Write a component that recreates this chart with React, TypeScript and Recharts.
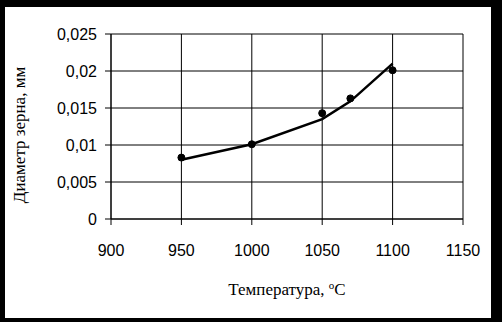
import { ComposedChart, Line, XAxis, YAxis, CartesianGrid } from "recharts";

const temps = [950, 1000, 1050, 1070, 1100];
const measured = [0.0083, 0.0101, 0.0143, 0.0163, 0.0201];
const fitted = [0.008, 0.0101, 0.0135, 0.0159, 0.021];
const xTicks = [900, 950, 1000, 1050, 1100, 1150];
const yTicks = [0, 0.005, 0.01, 0.015, 0.02, 0.025];

const data = temps.map((t, i) => ({ temp: t, measured: measured[i], fitted: fitted[i] }));

const fmt = (v: number) => String(v).replace(".", ",");

export default function App() {
  return (
    <div style={{ position: "fixed", left: 0, top: 0, width: 502, height: 322, background: "#000" }}>
      <div style={{ position: "absolute", left: 5, top: 7, width: 486, height: 311, background: "#fff" }} />
      <div style={{ position: "absolute", left: 0, top: 0 }}>
        <ComposedChart
          width={502}
          height={322}
          data={data}
          margin={{ top: 34, right: 39, bottom: 73, left: 0 }}
        >
          <CartesianGrid stroke="#000" strokeWidth={1} />
          <XAxis
            dataKey="temp"
            type="number"
            domain={[900, 1150]}
            ticks={xTicks}
            height={30}
            stroke="#000"
            tickSize={6}
            tickMargin={20}
            tick={{ fill: "#000", fontSize: 16, fontFamily: "Liberation Sans, Arial, sans-serif" }}
          />
          <YAxis
            type="number"
            domain={[0, 0.025]}
            ticks={yTicks}
            width={111}
            stroke="#000"
            tickSize={6}
            tickMargin={8}
            tickFormatter={fmt}
            tick={{ fill: "#000", fontSize: 16, fontFamily: "Liberation Sans, Arial, sans-serif" }}
          />
          <Line
            dataKey="fitted"
            stroke="#000"
            strokeWidth={2.5}
            dot={false}
            isAnimationActive={false}
          />
          <Line
            dataKey="measured"
            stroke="none"
            dot={{ r: 3.5, fill: "#000", stroke: "#000", strokeWidth: 1 }}
            activeDot={false}
            isAnimationActive={false}
          />
        </ComposedChart>
      </div>
      <div
        style={{
          position: "absolute",
          left: 87,
          top: 275,
          width: 400,
          textAlign: "center",
          fontFamily: "Liberation Serif, Times New Roman, serif",
          fontSize: 17,
          color: "#000",
          lineHeight: "20px",
        }}
      >
        Температура, <sup style={{ fontSize: 11, verticalAlign: "6px" }}>o</sup>C
      </div>
      <div
        style={{
          position: "absolute",
          left: 20 - 80,
          top: 135 - 10,
          width: 160,
          height: 20,
          lineHeight: "20px",
          textAlign: "center",
          transform: "rotate(-90deg)",
          fontFamily: "Liberation Serif, Times New Roman, serif",
          fontSize: 17,
          color: "#000",
          whiteSpace: "nowrap",
        }}
      >
        Диаметр зерна, мм
      </div>
    </div>
  );
}
